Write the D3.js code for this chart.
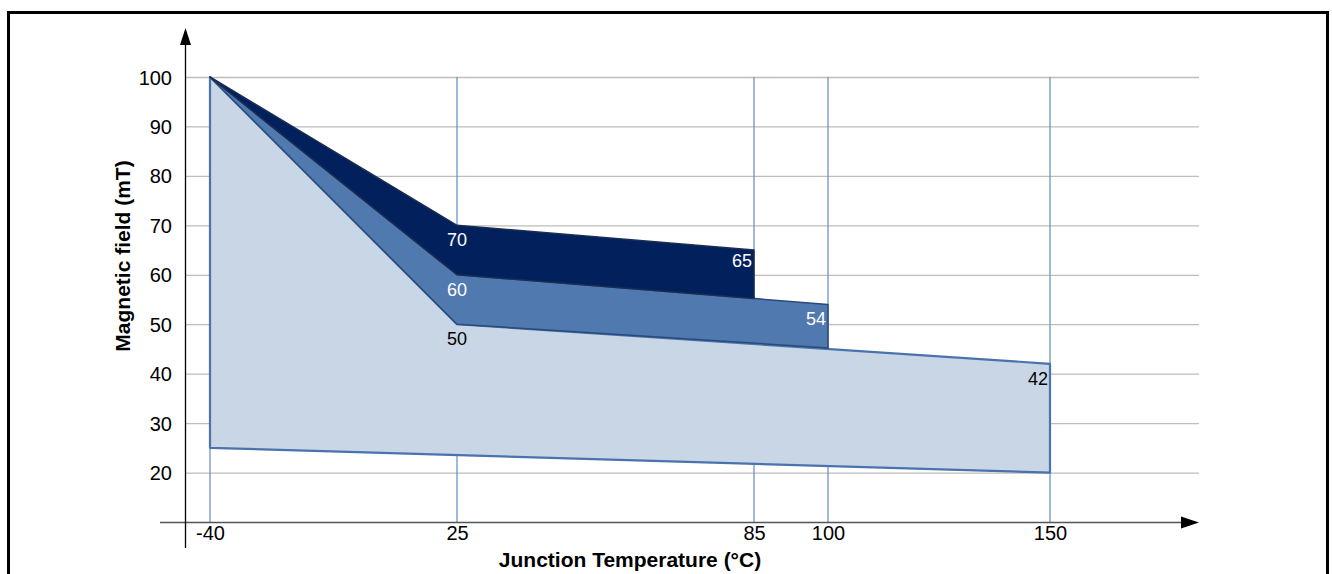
<!DOCTYPE html>
<html>
    <head>
        <meta charset="UTF-8">
        <script src="https://cdn.jsdelivr.net/npm/d3@7"></script>
        <style>
body{margin:0;background:#fff;}
text{font-family:"Liberation Sans", Arial, sans-serif;}
        </style>
    </head>
	<body>
		<script>
var Width = 1332, Height = 574;

// temperature ticks (not evenly spaced in the original)
var tempTicks = [-40, 25, 85, 100, 150];
var fieldTicks = [20, 30, 40, 50, 60, 70, 80, 90, 100];

// three operating areas, outline points [temperature, mT]
var lightArea = [[-40, 100], [25, 50], [150, 42], [150, 20], [-40, 25]];
var midArea = [[-40, 100], [25, 60], [100, 54], [100, 45.2], [25, 50]];
var darkArea = [[-40, 100], [25, 70], [85, 65], [85, 55.2], [25, 60]];

// value labels [temperature, mT, text]
var lightLabels = [[25, 50, "50"], [150, 42, "42"]];
var midLabels = [[25, 60, "60"], [100, 54, "54"]];
var darkLabels = [[25, 70, "70"], [85, 65, "65"]];

var svg = d3.select("body")
            .append("svg")
            .attr("width", Width)
            .attr("height", Height);

var x = d3.scaleLinear().domain(tempTicks).range([210, 457, 754, 828, 1050]);
var y = d3.scaleLinear().domain([10, 100]).range([522, 77]);

// frame
svg.append("path")
   .attr("d", "M8.5,574 V12.5 H1327.5 V574")
   .attr("fill", "none")
   .attr("stroke", "#000")
   .attr("stroke-width", 3);

// horizontal grid
svg.selectAll(".hgrid")
   .data(fieldTicks)
   .enter()
   .append("line")
   .attr("x1", 185).attr("x2", 1199)
   .attr("y1", function(d){return y(d) + 0.5;})
   .attr("y2", function(d){return y(d) + 0.5;})
   .attr("stroke", "#bdbdbd")
   .attr("stroke-width", 1.3);

// vertical grid
svg.selectAll(".vgrid")
   .data(tempTicks)
   .enter()
   .append("line")
   .attr("x1", function(d){return x(d);})
   .attr("x2", function(d){return x(d);})
   .attr("y1", y(100)).attr("y2", y(10))
   .attr("stroke", "#6f93c6")
   .attr("stroke-width", 1.3);

var area = d3.line()
             .x(function(d){return x(d[0]);})
             .y(function(d){return y(d[1]);});

svg.append("path")
   .attr("d", area(lightArea) + "Z")
   .attr("fill", "#c9d6e5")
   .attr("stroke", "#4a72ae")
   .attr("stroke-width", 2.2)
   .attr("stroke-linejoin", "round");

svg.append("path")
   .attr("d", area(midArea) + "Z")
   .attr("fill", "#5079b0")
   .attr("stroke", "#2a4a7a")
   .attr("stroke-width", 1.5)
   .attr("stroke-linejoin", "round");

svg.append("path")
   .attr("d", area(darkArea) + "Z")
   .attr("fill", "#02205b")
   .attr("stroke", "#1a2d52")
   .attr("stroke-width", 1.5)
   .attr("stroke-linejoin", "round");

function labels(data, color){
    svg.selectAll(null)
       .data(data)
       .enter()
       .append("text")
       .attr("x", function(d, i){return i == 0 ? x(d[0]) : x(d[0]) - 2;})
       .attr("y", function(d){return y(d[1]) + (d[2] == "65" ? 17 : 21);})
       .attr("text-anchor", function(d, i){return i == 0 ? "middle" : "end";})
       .attr("font-size", 18)
       .attr("fill", color)
       .text(function(d){return d[2];});
}
labels(lightLabels, "#000");
labels(midLabels, "#fff");
labels(darkLabels, "#fff");

// axes
var yAxis = d3.axisLeft(y).tickValues(fieldTicks).tickSize(0).tickPadding(13);
var gy = svg.append("g").attr("transform", "translate(185,0)").call(yAxis);
gy.select(".domain").remove();
gy.selectAll("text").attr("font-size", 20).attr("font-family", "Liberation Sans, Arial, sans-serif").attr("fill", "#000").attr("dy", "0.35em");

var xAxis = d3.axisBottom(x).tickValues(tempTicks).tickFormat(function(d){return String(d);}).tickSize(0).tickPadding(4);
var gx = svg.append("g").attr("transform", "translate(0,522)").call(xAxis);
gx.select(".domain").remove();
gx.selectAll("text").attr("font-size", 20).attr("font-family", "Liberation Sans, Arial, sans-serif").attr("fill", "#000");

svg.append("line")
   .attr("x1", 160).attr("x2", 1186)
   .attr("y1", 522.5).attr("y2", 522.5)
   .attr("stroke", "#555").attr("stroke-width", 1.5);
svg.append("path")
   .attr("d", "M1181,516.5 L1199,522.5 L1181,528.5 Z")
   .attr("fill", "#000");

svg.append("line")
   .attr("x1", 185.5).attr("x2", 185.5)
   .attr("y1", 40).attr("y2", 548)
   .attr("stroke", "#000").attr("stroke-width", 1.3);
svg.append("path")
   .attr("d", "M180,45 L185.5,28 L191,45 Z")
   .attr("fill", "#000");

svg.append("text")
   .attr("x", 630).attr("y", 567)
   .attr("text-anchor", "middle")
   .attr("font-size", 21)
   .attr("font-weight", "bold")
   .text("Junction Temperature (°C)");

svg.append("text")
   .attr("transform", "translate(130,256) rotate(-90)")
   .attr("text-anchor", "middle")
   .attr("font-size", 21)
   .attr("font-weight", "bold")
   .text("Magnetic field (mT)");
		</script>
	</body>
</html>
